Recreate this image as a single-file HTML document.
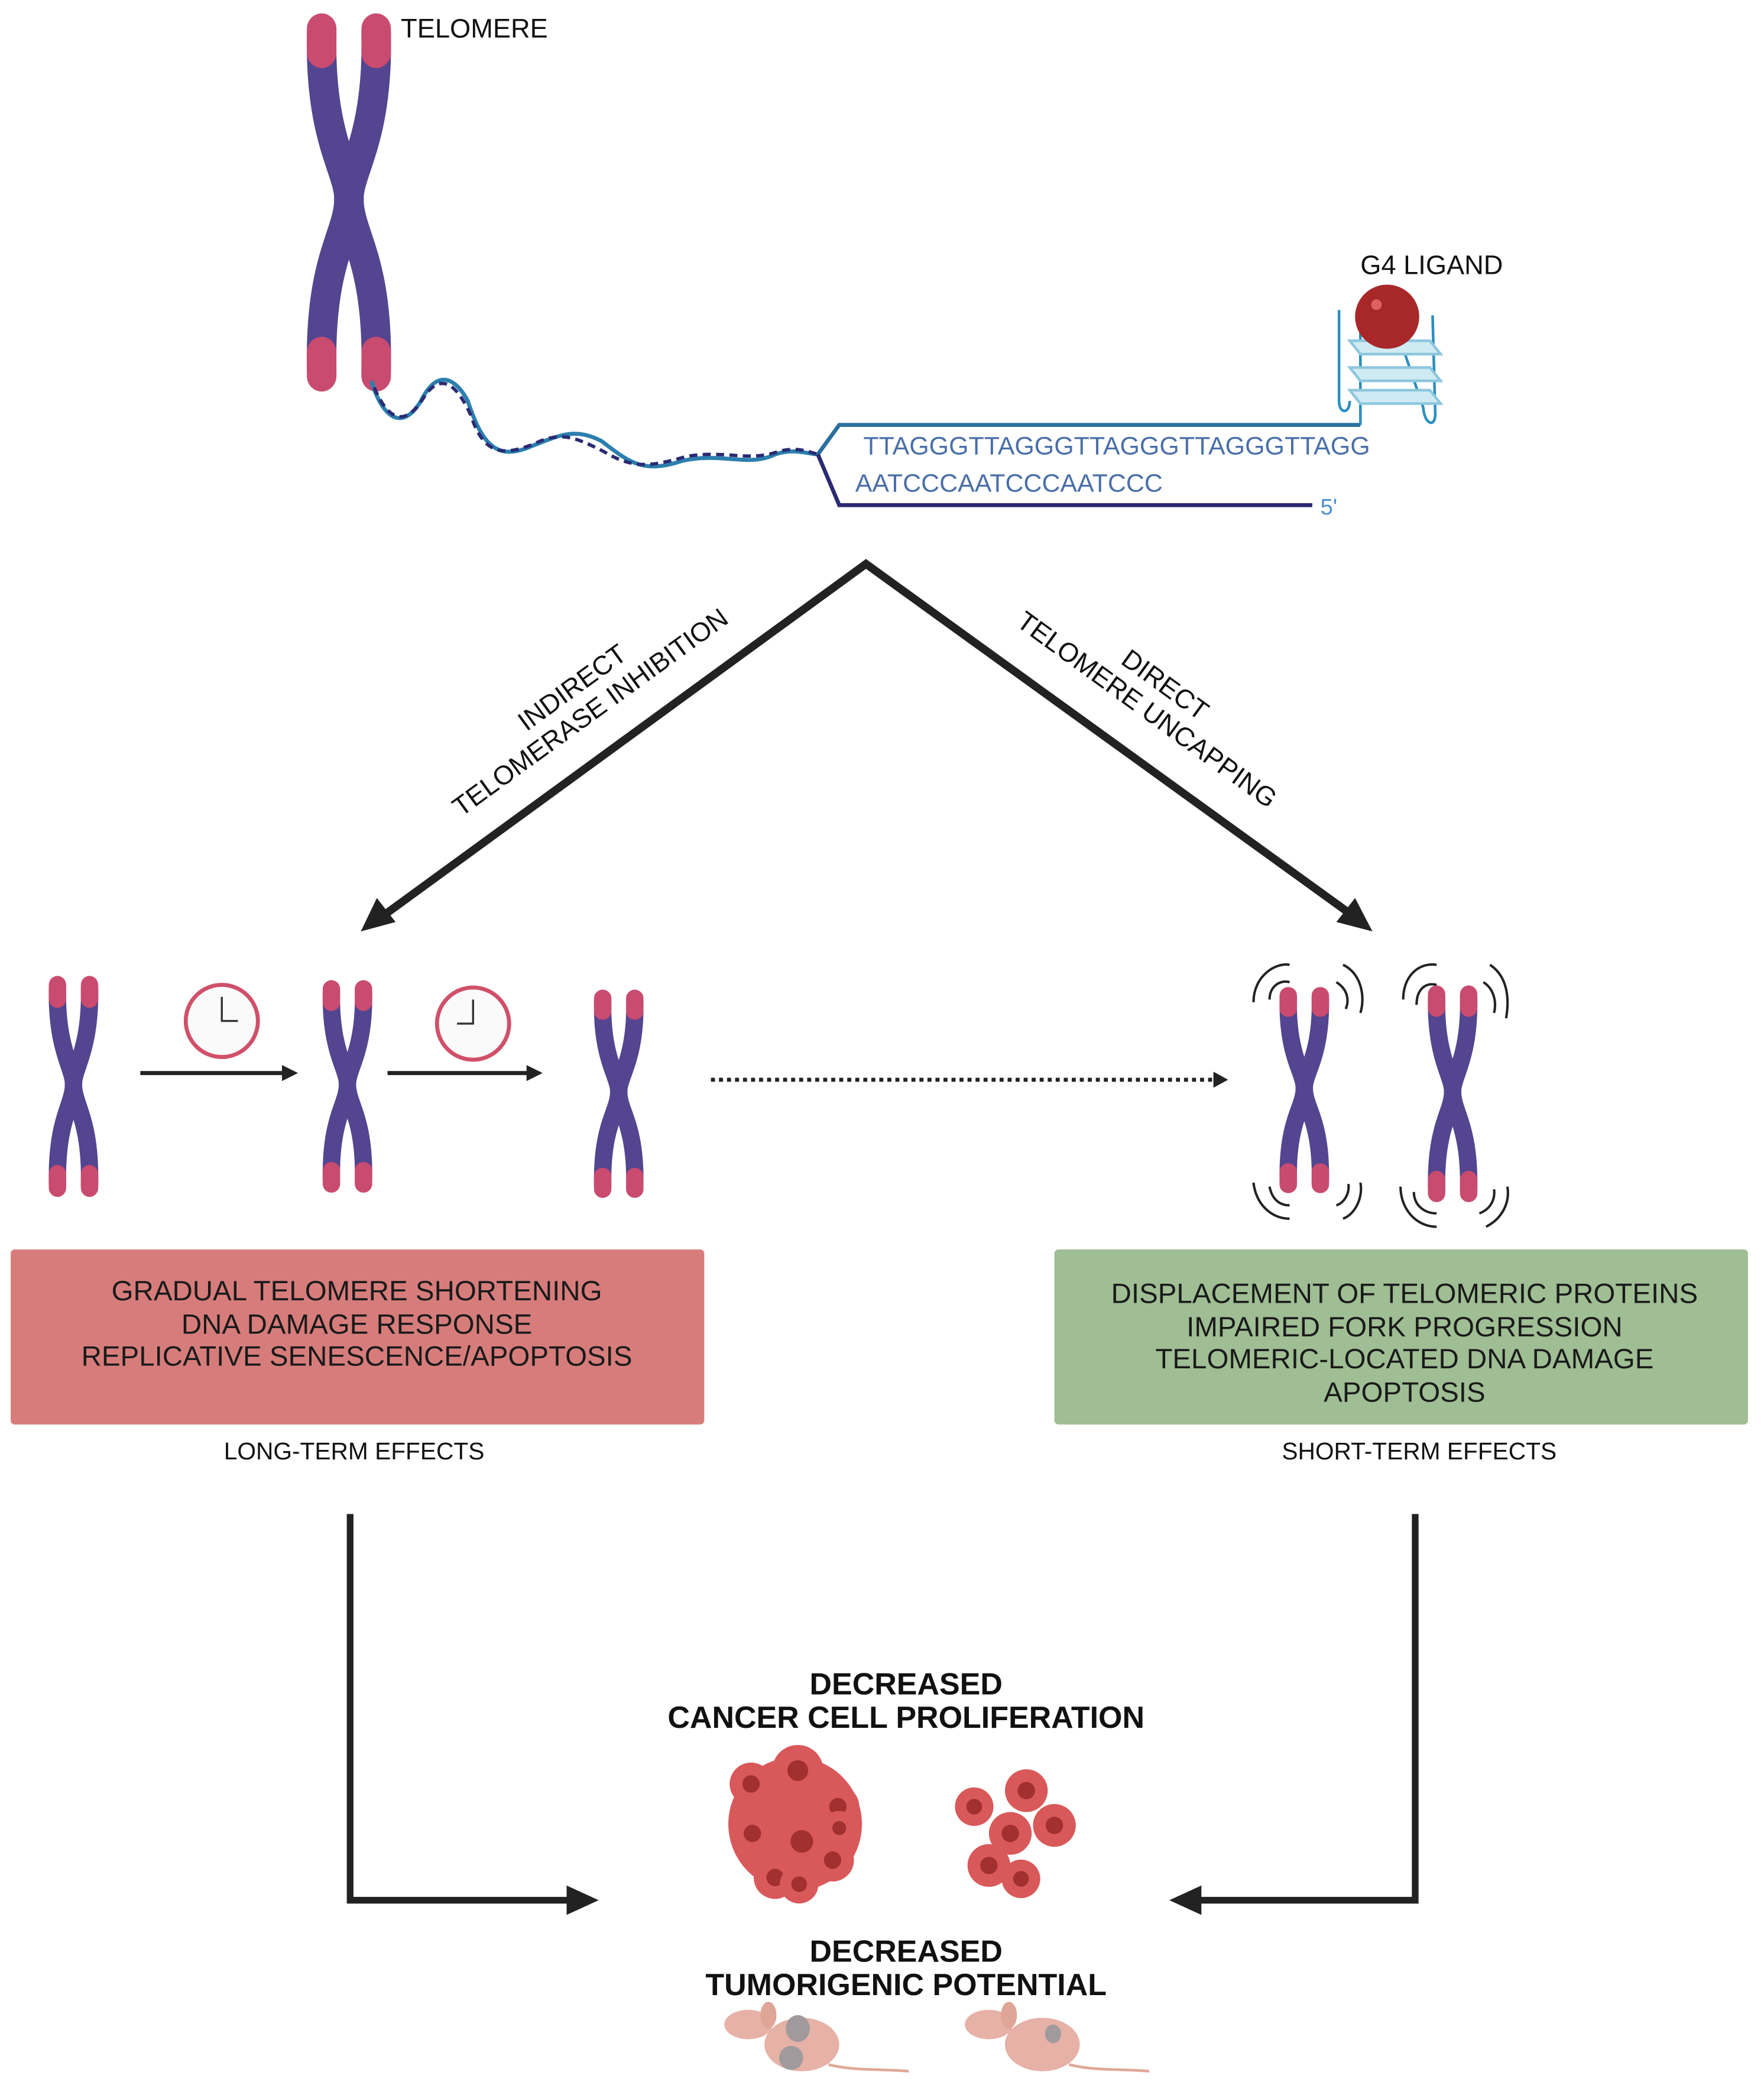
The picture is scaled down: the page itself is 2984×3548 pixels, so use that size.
<!DOCTYPE html>
<html><head><meta charset="utf-8"><style>
html,body{margin:0;padding:0;background:#fff}
svg{display:block}
text{font-family:"Liberation Sans",sans-serif}
</style></head><body>
<svg width="2984" height="3548" viewBox="0 0 1320 1570" preserveAspectRatio="none" xmlns="http://www.w3.org/2000/svg">
<defs>
<g id="chr">
<path d="M11,4 C10,50 24,62 23,75 C22,90 10,100 11,146" fill="none" stroke="#53458f" stroke-width="13" stroke-linecap="round"/>
<path d="M35,4 C36,50 22,62 23,75 C24,90 36,100 35,146" fill="none" stroke="#53458f" stroke-width="13" stroke-linecap="round"/>
<path d="M11,2 L11,12 M35,2 L35,12 M11,138 L11,148 M35,138 L35,148" stroke="#c94b70" stroke-width="13" stroke-linecap="round"/>
</g>
<marker id="ah" markerWidth="4" markerHeight="4" refX="3" refY="2" orient="auto" markerUnits="strokeWidth"><path d="M0,0 L4,2 L0,4 z" fill="#222"/></marker>
<g id="cell"><circle r="16" fill="#d9585a"/><circle r="6.5" fill="#a1302f"/></g>
</defs>

<use href="#chr" transform="translate(222,18) scale(1.7,1.78)"/>
<text x="300" y="28" font-size="20" fill="#111">TELOMERE</text>

<path d="M278,285 C285,310 300,325 315,300 C330,270 345,290 350,300 C360,330 370,345 395,335 C420,325 430,320 450,330 C470,345 480,355 510,345 C540,338 560,350 580,340 C595,335 605,340 612,340" fill="none" stroke="#2b7fae" stroke-width="3"/>
<path d="M280,290 C292,318 305,318 318,296 C333,275 345,295 352,310 C362,340 375,342 400,332 C420,322 432,328 452,338 C472,350 485,350 512,342 C540,336 560,346 582,338 C596,334 605,338 612,340" fill="none" stroke="#2b2a72" stroke-width="2.5" stroke-dasharray="6 4"/>
<path d="M612,340 L628,318 L1018,318" fill="none" stroke="#2b6f9e" stroke-width="3"/>
<path d="M612,340 L628,378 L982,378" fill="none" stroke="#2b2a72" stroke-width="3"/>
<text x="646" y="340" font-size="19" fill="#4a6fa8">TTAGGGTTAGGGTTAGGGTTAGGGTTAGG</text>
<text x="640" y="368" font-size="19" fill="#4a6fa8">AATCCCAATCCCAATCCC</text>
<text x="988" y="385" font-size="17" fill="#4a8fd0">5'</text>

<g fill="none" stroke="#2b8fc0" stroke-width="2">
<path d="M1018,318 L1018,232 M1002,232 L1002,300 C1002,310 1010,310 1010,300 M1072,236 L1074,310 C1074,320 1066,318 1065,305 L1048,255"/>
<path d="M1010,255 L1070,255 L1078,265 L1018,265 z M1010,275 L1070,275 L1078,285 L1018,285 z M1010,292 L1070,292 L1078,302 L1018,302 z" fill="#cfeaf3" stroke="#8cc7de"/>
</g>
<circle cx="1038" cy="237" r="24" fill="#a8282a"/>
<circle cx="1030" cy="228" r="4" fill="#e06060"/>
<text x="1018" y="205" font-size="20" fill="#111">G4 LIGAND</text>

<path d="M283,688 L648,422 L1012,685" fill="none" stroke="#222" stroke-width="6"/>
<path d="M270,697 L282,672 L296,690 z" fill="#222"/>
<path d="M1027,697 L1000,690 L1014,672 z" fill="#222"/>
<g transform="translate(438,528) rotate(-36)" font-size="20" fill="#111" text-anchor="middle">
<text x="0" y="-10">INDIRECT</text><text x="0" y="13">TELOMERASE INHIBITION</text></g>
<g transform="translate(862,526) rotate(36)" font-size="20" fill="#111" text-anchor="middle">
<text x="0" y="-10">DIRECT</text><text x="0" y="13">TELOMERE UNCAPPING</text></g>

<use href="#chr" transform="translate(32,735) scale(1,1.04)"/>
<use href="#chr" transform="translate(237,738) scale(1,1)"/>
<use href="#chr" transform="translate(440,745) scale(1,0.98)"/>
<use href="#chr" transform="translate(953,743) scale(1,0.97)"/>
<use href="#chr" transform="translate(1064,742) scale(1,1.02)"/>
<g fill="#fafafa" stroke="#d0506a" stroke-width="3">
<circle cx="166" cy="764" r="27"/><circle cx="354" cy="766" r="27"/></g>
<path d="M166,746 L166,764 L178,764 M354,748 L354,766 L342,766" stroke="#333" stroke-width="1.5" fill="none"/>
<path d="M105,803 L220,803" stroke="#222" stroke-width="3" marker-end="url(#ah)"/>
<path d="M290,803 L403,803" stroke="#222" stroke-width="3" marker-end="url(#ah)"/>
<path d="M532,808 L910,808" stroke="#222" stroke-width="3" stroke-dasharray="3 3"/>
<path d="M908,802 L919,808 L908,814 z" fill="#222"/>
<g fill="none" stroke="#222" stroke-width="1.8">
<path d="M938,750 C938,730 955,720 965,722 M950,748 C950,738 958,733 965,735"/>
<path d="M1005,722 C1018,728 1022,745 1018,758 M1000,735 C1008,740 1010,748 1007,755"/>
<path d="M1050,748 C1050,730 1062,720 1075,722 M1060,752 C1060,740 1067,735 1075,737"/>
<path d="M1115,722 C1127,730 1130,745 1127,762 M1110,735 C1118,740 1120,750 1118,758"/>
<path d="M938,885 C940,902 952,912 965,912 M950,888 C952,898 958,902 965,902"/>
<path d="M1005,912 C1015,908 1020,895 1018,885 M1000,902 C1006,900 1010,893 1009,886"/>
<path d="M1048,888 C1048,905 1060,918 1075,918 M1058,892 C1058,902 1066,908 1075,908"/>
<path d="M1112,918 C1124,912 1130,900 1128,888 M1107,908 C1115,905 1119,898 1118,890"/>
</g>

<rect x="8" y="935" width="519" height="131" rx="3" fill="#d67d7b"/>
<rect x="789" y="935" width="519" height="131" rx="3" fill="#9fbe93"/>
<g font-size="21" fill="#1a1a1a" text-anchor="middle">
<text x="267" y="973">GRADUAL TELOMERE SHORTENING</text>
<text x="267" y="998">DNA DAMAGE RESPONSE</text>
<text x="267" y="1022">REPLICATIVE SENESCENCE/APOPTOSIS</text>
<text x="1051" y="975">DISPLACEMENT OF TELOMERIC PROTEINS</text>
<text x="1051" y="1000">IMPAIRED FORK PROGRESSION</text>
<text x="1051" y="1024">TELOMERIC-LOCATED DNA DAMAGE</text>
<text x="1051" y="1049">APOPTOSIS</text>
</g>
<g font-size="18" fill="#111" text-anchor="middle">
<text x="265" y="1092">LONG-TERM EFFECTS</text>
<text x="1062" y="1092">SHORT-TERM EFFECTS</text>
</g>

<path d="M262,1133 L262,1422 L428,1422" fill="none" stroke="#222" stroke-width="5"/>
<path d="M448,1422 L424,1411 L424,1433 z" fill="#222"/>
<path d="M1059,1133 L1059,1422 L895,1422" fill="none" stroke="#222" stroke-width="5"/>
<path d="M875,1422 L899,1411 L899,1433 z" fill="#222"/>

<g font-size="23" font-weight="bold" fill="#111" text-anchor="middle">
<text x="678" y="1268">DECREASED</text>
<text x="678" y="1293">CANCER CELL PROLIFERATION</text>
<text x="678" y="1468">DECREASED</text>
<text x="678" y="1493">TUMORIGENIC POTENTIAL</text>
</g>

<g>
<circle cx="595" cy="1365" r="50" fill="#d9585a"/>
<use href="#cell" transform="translate(562,1335)"/>
<use href="#cell" transform="translate(597,1325) scale(1.2)"/>
<use href="#cell" transform="translate(627,1352)"/>
<use href="#cell" transform="translate(563,1372)"/>
<use href="#cell" transform="translate(600,1378) scale(1.3)"/>
<use href="#cell" transform="translate(580,1405)"/>
<use href="#cell" transform="translate(623,1392)"/>
<use href="#cell" transform="translate(628,1368) scale(0.8)"/>
<use href="#cell" transform="translate(598,1410) scale(0.9)"/>
</g>
<g>
<use href="#cell" transform="translate(729,1352) scale(0.9)"/>
<use href="#cell" transform="translate(768,1340)"/>
<use href="#cell" transform="translate(756,1372)"/>
<use href="#cell" transform="translate(789,1366)"/>
<use href="#cell" transform="translate(740,1396)"/>
<use href="#cell" transform="translate(764,1406) scale(0.9)"/>
</g>

<ellipse cx="600" cy="1530" rx="28" ry="20" fill="#e6b1a6"/>
<ellipse cx="560" cy="1515" rx="18" ry="11" fill="#e6b1a6"/>
<ellipse cx="575" cy="1508" rx="6" ry="10" fill="#dfa596"/>
<path d="M620,1545 C640,1550 660,1548 680,1550" stroke="#e0a898" stroke-width="2" fill="none"/>
<ellipse cx="597" cy="1518" rx="9" ry="10" fill="#a09a9c"/>
<ellipse cx="592" cy="1540" rx="9" ry="9" fill="#a09a9c"/>
<ellipse cx="780" cy="1530" rx="28" ry="20" fill="#e6b1a6"/>
<ellipse cx="740" cy="1515" rx="18" ry="11" fill="#e6b1a6"/>
<ellipse cx="755" cy="1508" rx="6" ry="10" fill="#dfa596"/>
<path d="M800,1545 C820,1550 840,1548 860,1550" stroke="#e0a898" stroke-width="2" fill="none"/>
<ellipse cx="788" cy="1522" rx="6" ry="7" fill="#a09a9c"/>
</svg>
</body></html>
